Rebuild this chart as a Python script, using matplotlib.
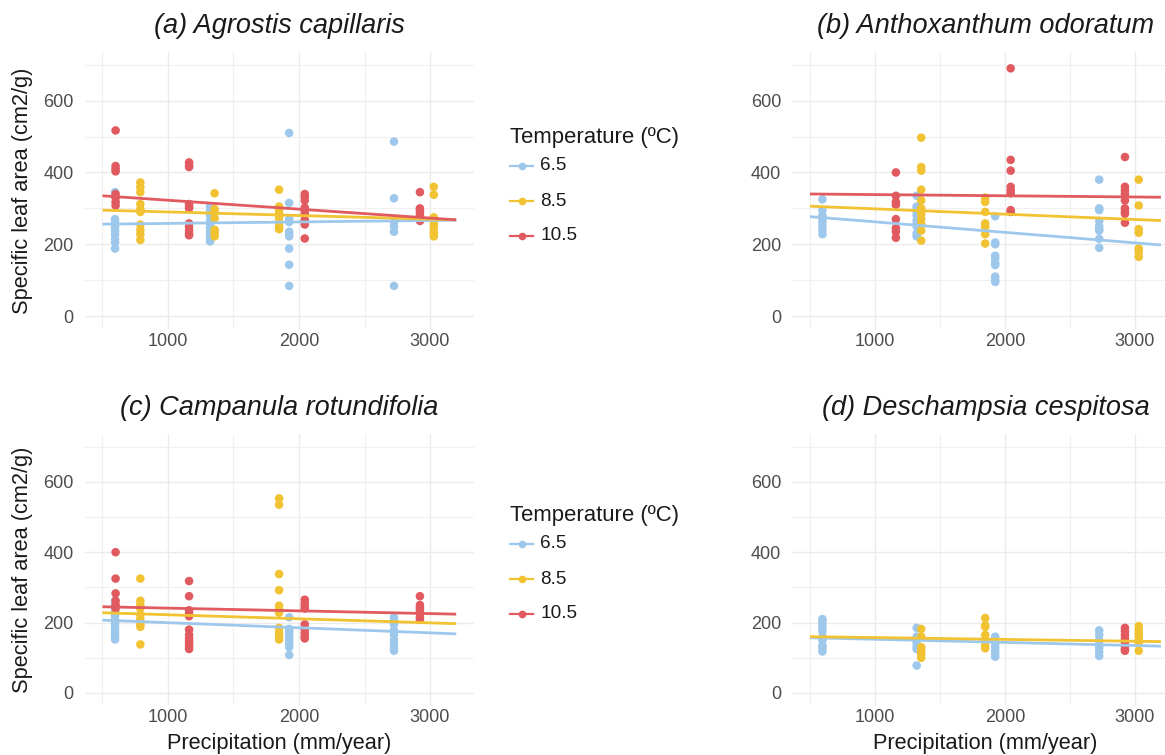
import numpy as np
import matplotlib
matplotlib.use('Agg')
import matplotlib.pyplot as plt
from matplotlib.lines import Line2D
from matplotlib.ticker import MultipleLocator

plt.rcParams['font.family'] = ['Liberation Sans', 'DejaVu Sans']

# temperature groups and their colours
temps = ['6.5', '8.5', '10.5']
colors = ['#9DC8EC', '#F1C232', '#E05A5F']

# mean annual precipitation (mm/year) of the sites in each temperature level
precip_65 = [596, 1321, 1925, 2725]
precip_85 = [789, 1356, 1848, 3029]
precip_105 = [600, 1161, 2044, 2923]

# specific leaf area (cm2/g) per site, one list per site (same order as precip_*)
agrostis_65 = [[345, 335, 270, 260, 248, 238, 228, 215, 205, 188],
               [305, 292, 280, 265, 255, 245, 235, 225, 215, 208],
               [510, 315, 270, 262, 235, 228, 222, 188, 143, 84],
               [486, 328, 262, 250, 235, 84]]
agrostis_85 = [[372, 358, 345, 312, 298, 290, 255, 240, 228, 212],
               [342, 298, 288, 272, 240, 232, 222],
               [352, 305, 295, 285, 275, 262, 250, 242],
               [360, 338, 275, 265, 255, 245, 232, 222]]
agrostis_105 = [[517, 418, 410, 403, 340, 330, 318, 308],
                [428, 420, 415, 312, 305, 300, 258, 248, 238, 230, 225],
                [340, 332, 322, 302, 295, 285, 268, 255, 216],
                [345, 300, 295, 288, 280, 272, 265]]

anthox_65 = [[325, 295, 280, 272, 262, 250, 240, 228],
             [335, 305, 298, 290, 280, 268, 258, 250, 230, 222],
             [278, 205, 200, 168, 160, 148, 142, 110, 100, 95],
             [380, 300, 295, 265, 250, 242, 238, 215, 190]]
anthox_85 = [[],
             [497, 415, 405, 352, 322, 300, 285, 270, 255, 238, 210],
             [330, 318, 290, 258, 248, 228, 202],
             [380, 308, 242, 232, 188, 178, 165]]
anthox_105 = [[],
              [400, 335, 318, 310, 270, 245, 235, 218],
              [690, 435, 405, 360, 350, 342, 295, 290],
              [443, 360, 350, 340, 322, 300, 292, 285, 260]]

campanula_65 = [[262, 255, 245, 232, 220, 208, 198, 188, 178, 168, 160, 152],
                [],
                [215, 182, 175, 165, 158, 150, 140, 130, 108],
                [215, 205, 195, 178, 165, 150, 140, 128, 120]]
campanula_85 = [[325, 262, 250, 240, 222, 210, 195, 188, 138],
                [],
                [553, 535, 338, 292, 248, 238, 228, 185, 172, 160, 152],
                []]
campanula_105 = [[400, 325, 283, 262, 250, 240],
                 [318, 275, 235, 225, 218, 180, 165, 155, 148, 140, 132, 125],
                 [265, 255, 248, 240, 195, 180, 170, 160, 155],
                 [275, 250, 242, 235, 225, 215, 208]]

deschampsia_65 = [[210, 205, 195, 185, 175, 160, 150, 135, 128, 118],
                  [185, 160, 150, 140, 130, 125, 78],
                  [160, 150, 140, 130, 120, 110, 103],
                  [178, 165, 150, 138, 128, 118, 105]]
deschampsia_85 = [[],
                  [182, 160, 130, 120, 110, 100],
                  [213, 192, 188, 165, 150, 135, 127],
                  [190, 180, 170, 160, 150, 140, 120]]
deschampsia_105 = [[], [], [],
                   [185, 175, 165, 155, 145, 135, 125, 120]]

# fitted SLA at the ends of the prediction range (6.5, 8.5, 10.5)
fit_x = [500, 3200]
fit_agrostis = [[256, 267], [295, 268], [335, 268]]
fit_anthox = [[277, 198], [306, 266], [340, 331]]
fit_campanula = [[207, 168], [228, 197], [245, 224]]
fit_deschampsia = [[157, 133], [160, 146], None]

titles = ['(a) Agrostis capillaris', '(b) Anthoxanthum odoratum',
          '(c) Campanula rotundifolia', '(d) Deschampsia cespitosa']

W, H = 1165, 755
fig = plt.figure(figsize=(W / 100, H / 100), dpi=100)
fig.patch.set_facecolor('white')


def add_panel(left, top, right, bottom):
    return fig.add_axes([left / W, 1 - bottom / H, (right - left) / W, (bottom - top) / H])


def draw_panel(ax, sla_groups, fits, title):
    precips = [precip_65, precip_85, precip_105]
    for i in range(len(temps)):
        for x, vals in zip(precips[i], sla_groups[i]):
            if len(vals) == 0:
                continue
            ax.scatter(np.full(len(vals), x), vals, s=38, color=colors[i],
                       edgecolors='none', zorder=2)
    for i in range(len(temps)):
        if fits[i] is None:
            continue
        ax.plot(fit_x, fits[i], color=colors[i], lw=2.0, zorder=3,
                solid_capstyle='butt')

    ax.set_xlim(365, 3335)
    ax.set_ylim(-35, 735)
    ax.xaxis.set_major_locator(MultipleLocator(1000))
    ax.xaxis.set_minor_locator(MultipleLocator(500))
    ax.yaxis.set_major_locator(MultipleLocator(200))
    ax.yaxis.set_minor_locator(MultipleLocator(100))
    ax.grid(which='major', color='#EBEBEB', lw=1.0)
    ax.grid(which='minor', color='#F0F0F0', lw=0.8)
    ax.set_axisbelow(True)
    for sp in ax.spines.values():
        sp.set_visible(False)
    ax.tick_params(which='both', length=0, labelsize=13, labelcolor='#4D4D4D')
    ax.tick_params(axis='y', pad=8)
    ax.tick_params(axis='x', pad=3)

    pos = ax.get_position()
    fig.text((pos.x0 + pos.x1) / 2, pos.y1 + 26 / H, title, ha='center', va='center',
             fontsize=19.5, style='italic', color='#1A1A1A')


def draw_legend(top_px):
    fig.text(510 / W, 1 - top_px / H, 'Temperature (\u00baC)', ha='left', va='center',
             fontsize=15.9, color='#1A1A1A')
    for i, t in enumerate(temps):
        y = 1 - (top_px + 28 + 35 * i) / H
        fig.add_artist(Line2D([510 / W, 533 / W], [y, y], color=colors[i], lw=1.6,
                              transform=fig.transFigure))
        fig.add_artist(Line2D([521.5 / W], [y], marker='o', ms=4.5, color=colors[i],
                              transform=fig.transFigure))
        fig.text(540 / W, y, t, ha='left', va='center', fontsize=13.7, color='#1A1A1A')


ax_a = add_panel(84.8, 52.2, 473.9, 328.6)
ax_b = add_panel(792.4, 52.2, 1178.5, 328.6)
ax_c = add_panel(84.8, 434.3, 473.9, 705.3)
ax_d = add_panel(792.4, 434.3, 1178.5, 705.3)

draw_panel(ax_a, [agrostis_65, agrostis_85, agrostis_105], fit_agrostis, titles[0])
draw_panel(ax_b, [anthox_65, anthox_85, anthox_105], fit_anthox, titles[1])
draw_panel(ax_c, [campanula_65, campanula_85, campanula_105], fit_campanula, titles[2])
draw_panel(ax_d, [deschampsia_65, deschampsia_85, deschampsia_105], fit_deschampsia, titles[3])

# axis titles only on the outer panels
for ax in [ax_a, ax_c]:
    pos = ax.get_position()
    fig.text(23 / W, (pos.y0 + pos.y1) / 2, 'Specific leaf area (cm2/g)', rotation=90,
             ha='center', va='center', fontsize=15.7, color='#1A1A1A')
for ax in [ax_c, ax_d]:
    pos = ax.get_position()
    fig.text((pos.x0 + pos.x1) / 2, 1 - 744 / H, 'Precipitation (mm/year)',
             ha='center', va='center', fontsize=15.7, color='#1A1A1A')

draw_legend(138)
draw_legend(516)

plt.savefig('out.png', dpi=100)
plt.close()
